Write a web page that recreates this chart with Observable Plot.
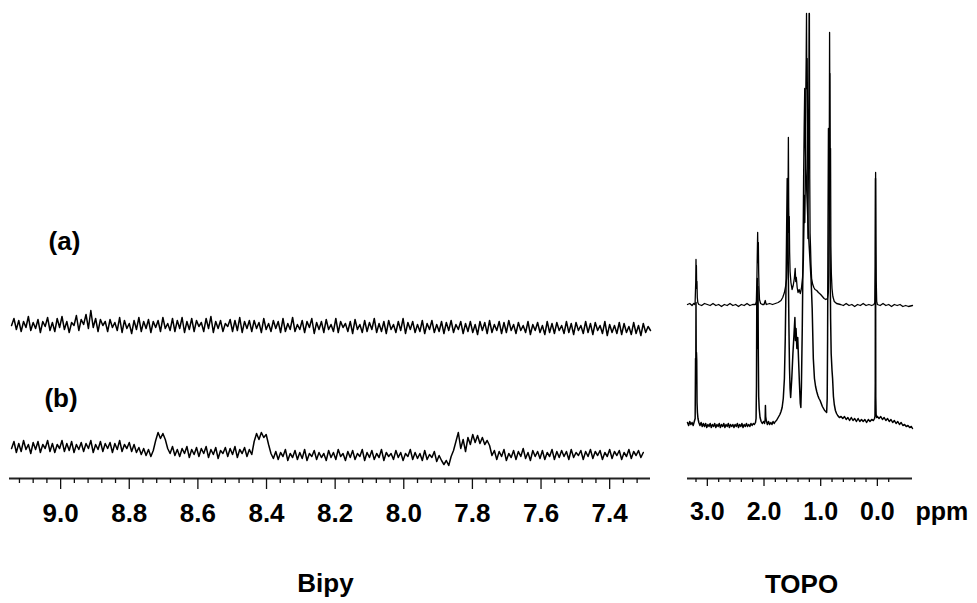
<!DOCTYPE html>
<html>
<head>
<meta charset="utf-8">
<script src="https://cdn.jsdelivr.net/npm/d3@7"></script>
<script src="https://cdn.jsdelivr.net/npm/@observablehq/plot@0.6"></script>
<style>
  body { margin: 0; background: #fff; }
  #chart { position: relative; width: 977px; height: 603px; font-family: "Liberation Sans", Arial, sans-serif; }
  #chart svg { position: absolute; top: 0; overflow: visible; }
</style>
</head>
<body>
<div id="chart"></div>
<script>
// ---------- Bipy region (left panel) ----------
const bipyPpmStart = 9.143;   // first sample (ppm)
const bipyPpmStep = 0.007;    // acquisition spacing (ppm)
const bipyMajorTicks = [9.0, 8.8, 8.6, 8.4, 8.2, 8.0, 7.8, 7.6, 7.4];
const bipyMinorTicks = [9.12, 9.08, 9.04, 8.96, 8.92, 8.88, 8.84, 8.76, 8.72, 8.68, 8.64, 8.56, 8.52, 8.48, 8.44,
  8.36, 8.32, 8.28, 8.24, 8.16, 8.12, 8.08, 8.04, 7.96, 7.92, 7.88, 7.84, 7.76, 7.72, 7.68, 7.64, 7.56, 7.52, 7.48, 7.44, 7.36, 7.32];

// trace (a): intensity, arbitrary units
const bipyA = [
  153,160,149,158,147,157,151,162,148,156,
  150,159,146,157,152,161,148,156,147,160,
  151,162,149,157,146,156,153,163,148,159,
  154,164,150,168,151,160,147,159,153,157,
  147,159,151,156,148,161,146,158,150,155,
  145,158,149,161,147,157,150,159,146,157,
  151,158,147,161,150,155,148,160,147,158,
  150,161,146,157,149,160,147,158,152,156,
  147,160,150,162,146,157,150,158,147,155,
  152,159,147,158,148,161,146,157,150,158,
  147,158,150,156,146,160,149,155,147,158,
  150,157,146,160,147,155,149,161,147,154,
  149,158,146,157,151,160,145,156,149,157,
  146,159,149,154,147,160,146,157,151,155,
  147,157,145,159,149,154,146,158,147,156,
  149,160,146,155,147,157,145,158,149,154,
  146,157,148,160,145,156,149,157,146,154,
  147,158,145,155,149,158,146,154,147,157,
  145,156,148,158,146,154,149,157,145,155,
  147,157,146,154,144,157,148,156,145,158,
  146,154,148,157,145,156,146,158,148,154,
  145,156,148,153,146,157,144,154,148,156,
  146,153,144,157,146,155,145,156,148,153,
  145,157,146,155,144,156,148,153,145,157,
  146,155,144,156,148,153,145,157,143,154,
  146,153,145,156,144,155,146,152,144,156,
  145,153,143,155,146,152,148
];

// trace (b): intensity, arbitrary units
const bipyB = [
  30,37,26,35,27,38,29,34,25,36,
  29,37,26,34,30,38,27,35,26,34,
  30,38,27,35,28,37,26,34,29,36,
  27,35,30,38,26,34,29,37,27,35,
  30,36,26,35,29,38,27,34,30,36,
  27,34,26,31,24,30,23,29,22,28,
  38,46,40,45,39,30,25,32,23,29,
  22,30,25,32,21,29,24,31,22,30,
  25,32,21,29,24,31,20,28,25,31,
  22,30,24,32,21,29,25,31,22,29,
  24,37,45,39,46,41,44,34,25,20,
  27,19,26,22,29,18,25,21,28,19,
  26,20,29,18,25,22,28,19,26,21,
  25,18,28,21,26,19,29,22,25,18,
  27,21,28,19,25,22,29,18,26,21,
  28,19,25,21,29,18,26,22,25,19,
  28,21,26,18,25,22,29,19,26,20,
  25,18,28,19,24,21,27,17,23,18,
  14,18,13,22,28,37,46,30,39,27,
  41,34,44,36,43,35,41,34,38,33,
  23,28,19,27,22,29,18,25,21,28,
  19,27,22,30,20,26,18,28,22,27,
  20,28,19,26,22,29,19,27,21,28,
  22,27,19,29,21,26,23,28,19,27,
  22,29,20,27,23,28,19,26,22,29,
  20,27,23,28,19,26,22,29,20,27,
  23,28,21,26
];

// ---------- TOPO region (right panel) ----------
const topoMajorTicks = [3, 2, 1, 0];
const topoMinorTicks = [3.2, 2.8, 2.6, 2.4, 2.2, 1.8, 1.6, 1.4, 1.2, 0.8, 0.6, 0.4, 0.2, -0.2];

// [ppm, intensity] trace (a)
const topoA = [
  [3.35,174],[3.31,175],[3.27,173],[3.24,175],[3.22,174],
  [3.215,177],[3.205,196],[3.20,219],[3.197,201],[3.193,213],[3.188,190],[3.183,197],[3.177,181],[3.168,176],[3.15,174],
  [3.10,173],[3.05,175],[3.00,174],[2.95,173],[2.90,175],[2.85,173],[2.80,174],[2.75,172],[2.70,174],[2.65,173],[2.60,175],
  [2.55,173],[2.50,174],[2.45,172],[2.40,174],[2.35,173],[2.30,175],[2.25,173],[2.20,174],[2.15,174],
  [2.135,177],[2.125,201],[2.118,226],[2.112,246],[2.106,216],[2.10,236],[2.094,206],[2.088,191],[2.08,179],[2.06,175],[2.03,174],
  [2.00,174],[1.978,178],[1.97,176],[1.96,174],[1.90,175],[1.85,174],[1.80,175],[1.75,176],[1.70,178],
  [1.67,181],[1.64,186],[1.62,192],[1.60,200],[1.588,216],[1.577,268],[1.570,341],[1.564,271],[1.559,246],[1.554,262],[1.548,226],[1.54,207],[1.525,196],
  [1.505,189],[1.485,193],[1.465,200],[1.450,210],[1.440,197],[1.430,201],[1.415,191],[1.40,186],[1.38,189],[1.36,185],[1.34,190],[1.32,201],[1.305,218],
  [1.295,252],[1.287,283],[1.28,256],[1.27,300],[1.262,390],[1.256,420],[1.250,465],[1.244,390],[1.238,420],[1.232,358],[1.225,240],
  [1.218,300],[1.211,350],[1.205,465],[1.199,465],[1.193,300],[1.187,245],[1.18,233],[1.17,212],[1.16,200],
  [1.14,194],[1.12,191],[1.10,189],[1.07,188],[1.04,186],[1.00,184],[0.97,182],[0.94,180],[0.91,179],[0.88,180],[0.865,186],
  [0.858,205],[0.852,260],[0.847,356],[0.843,446],[0.839,380],[0.835,405],[0.830,300],[0.826,330],[0.82,232],[0.812,205],[0.80,190],[0.785,182],[0.76,177],[0.72,175],
  [0.65,174],[0.60,173],[0.55,175],[0.50,173],[0.45,174],[0.40,172],[0.35,174],[0.30,173],[0.25,175],[0.20,173],[0.15,174],[0.10,173],[0.06,174],
  [0.045,176],[0.037,212],[0.031,306],[0.026,242],[0.02,198],[0.012,177],[0.0,174],
  [-0.05,173],[-0.1,175],[-0.15,173],[-0.2,174],[-0.25,172],[-0.3,174],[-0.35,173],[-0.4,174],[-0.45,172],[-0.5,173],[-0.55,172],[-0.62,173]
];

// [ppm, intensity] trace (b)
const topoB = [
  [3.35,56],[3.33,53],[3.31,57],[3.29,54],[3.27,56],[3.25,53],[3.23,57],[3.215,60],
  [3.208,120],[3.204,98],[3.200,176],[3.196,114],[3.192,126],[3.187,118],[3.182,76],[3.175,66],[3.165,60],[3.15,56],
  [3.13,53],[3.11,56],[3.09,52],[3.07,55],[3.05,52],[3.03,55],[3.01,51],[2.99,54],[2.97,52],[2.95,55],[2.93,51],[2.91,54],
  [2.89,52],[2.87,55],[2.85,51],[2.83,54],[2.81,52],[2.79,55],[2.77,51],[2.75,54],[2.73,52],[2.71,55],[2.69,51],[2.67,54],
  [2.65,52],[2.63,55],[2.61,51],[2.59,54],[2.57,52],[2.55,54],[2.53,51],[2.51,54],[2.49,52],[2.47,55],[2.45,51],[2.43,54],
  [2.41,52],[2.39,55],[2.37,51],[2.35,54],[2.33,52],[2.31,55],[2.29,52],[2.27,54],[2.25,52],[2.23,55],[2.21,53],[2.19,55],[2.17,54],[2.15,56],
  [2.14,60],[2.133,92],[2.127,182],[2.122,130],[2.117,200],[2.112,150],[2.106,192],[2.10,122],[2.094,82],[2.085,70],[2.07,61],[2.05,57],[2.03,55],[2.01,57],
  [1.99,55],[1.98,59],[1.975,73],[1.97,62],[1.96,58],[1.94,54],[1.92,57],[1.90,54],[1.88,56],[1.86,54],[1.84,57],[1.82,55],[1.80,57],[1.78,58],[1.76,60],[1.74,62],[1.72,64],[1.70,67],
  [1.68,71],[1.66,80],[1.64,100],[1.625,140],[1.61,200],[1.60,250],[1.59,300],[1.58,260],[1.57,200],[1.56,150],[1.55,110],[1.54,90],[1.53,81],
  [1.51,100],[1.49,125],[1.47,145],[1.455,161],[1.445,138],[1.435,150],[1.42,130],[1.405,141],[1.39,118],[1.375,95],[1.36,75],[1.35,71],[1.34,92],
  [1.325,150],[1.31,230],[1.30,300],[1.29,350],[1.28,390],[1.27,340],[1.26,310],[1.24,280],[1.22,250],[1.20,230],[1.17,200],[1.15,170],[1.13,120],
  [1.11,100],[1.09,92],[1.07,87],[1.05,83],[1.03,80],[1.01,78],[0.99,75],[0.97,72],[0.95,70],[0.93,68],[0.91,67],[0.895,66],
  [0.885,80],[0.878,140],[0.87,250],[0.862,350],[0.855,300],[0.848,330],[0.84,260],[0.832,210],[0.825,160],[0.815,125],[0.80,108],[0.79,100],
  [0.775,82],[0.76,74],[0.74,68],[0.72,65],[0.70,63],[0.67,61],
  [0.64,62],[0.61,60],[0.58,62],[0.55,59],[0.52,61],[0.49,58],[0.46,61],[0.43,58],[0.40,60],[0.37,57],[0.34,60],[0.31,57],
  [0.28,59],[0.25,57],[0.22,59],[0.19,56],[0.16,59],[0.13,57],[0.10,59],[0.07,58],[0.05,60],
  [0.042,62],[0.037,96],[0.033,300],[0.028,82],[0.022,64],[0.01,61],[0.0,62],
  [-0.03,60],[-0.06,62],[-0.09,59],[-0.12,61],[-0.15,58],[-0.18,60],[-0.21,57],[-0.24,59],[-0.27,56],[-0.30,58],
  [-0.33,55],[-0.36,57],[-0.39,54],[-0.42,56],[-0.45,53],[-0.48,54],[-0.51,52],[-0.54,53],[-0.57,51],[-0.60,52],[-0.62,50]
];

// ---------- build tables ----------
const bipyTable = (arr) => arr.map((v, i) => ({ppm: bipyPpmStart - i * bipyPpmStep, intensity: v}));
const pairTable = (arr) => arr.map(([p, v]) => ({ppm: p, intensity: v}));

const fmt = d3.format(".1f");
const font = {fontFamily: "'Liberation Sans', Arial, sans-serif", fontWeight: "bold", color: "black", background: "transparent", overflow: "visible"};

const left = Plot.plot({
  width: 660, height: 603,
  marginLeft: 9, marginRight: 10, marginTop: 0, marginBottom: 125,
  style: font,
  x: {domain: [9.149, 7.281]},
  y: {domain: [0, 478], axis: null},
  marks: [
    Plot.ruleY([0], {stroke: "#222", strokeWidth: 2}),
    Plot.axisX({ticks: bipyMinorTicks, tickSize: 5, tickFormat: () => "", stroke: "#111", strokeWidth: 1.3, label: null}),
    Plot.axisX({ticks: bipyMajorTicks, tickSize: 11, tickPadding: 14, tickFormat: fmt, stroke: "#111", strokeWidth: 1.3,
      fontSize: 26, fontWeight: "bold", label: null}),
    Plot.line(bipyTable(bipyA), {x: "ppm", y: "intensity", stroke: "black", strokeWidth: 1.5}),
    Plot.line(bipyTable(bipyB), {x: "ppm", y: "intensity", stroke: "black", strokeWidth: 1.5}),
    Plot.text(["(a)"], {text: d => d, frameAnchor: "top-left", dx: 55, dy: 241, fontSize: 26, fontWeight: "bold", textAnchor: "middle", lineAnchor: "middle"}),
    Plot.text(["(b)"], {text: d => d, frameAnchor: "top-left", dx: 51.5, dy: 398, fontSize: 26, fontWeight: "bold", textAnchor: "middle", lineAnchor: "middle"}),
    Plot.text(["Bipy"], {text: d => d, frameAnchor: "bottom", dx: -4.5, dy: 105, fontSize: 26, fontWeight: "bold", textAnchor: "middle", lineAnchor: "middle"})
  ]
});

const right = Plot.plot({
  width: 307, height: 603,
  marginLeft: 17, marginRight: 65, marginTop: 0, marginBottom: 125,
  style: font,
  x: {domain: [3.35, -0.62]},
  y: {domain: [0, 478], axis: null},
  marks: [
    Plot.ruleY([0], {stroke: "#222", strokeWidth: 2}),
    Plot.axisX({ticks: topoMinorTicks, tickSize: 4, tickFormat: () => "", stroke: "#111", strokeWidth: 1.3, label: null}),
    Plot.axisX({ticks: topoMajorTicks, tickSize: 8, tickPadding: 16, tickFormat: fmt, stroke: "#111", strokeWidth: 1.3,
      fontSize: 25, fontWeight: "bold", label: null}),
    Plot.line(pairTable(topoA), {x: "ppm", y: "intensity", stroke: "black", strokeWidth: 1.3}),
    Plot.line(pairTable(topoB), {x: "ppm", y: "intensity", stroke: "black", strokeWidth: 1.5}),
    Plot.text(["ppm"], {text: d => d, frameAnchor: "bottom-right", dx: 3, dy: 33, fontSize: 25, fontWeight: "bold", textAnchor: "start", lineAnchor: "middle"}),
    Plot.text(["TOPO"], {text: d => d, frameAnchor: "bottom", dx: 1.5, dy: 106, fontSize: 26, fontWeight: "bold", textAnchor: "middle", lineAnchor: "middle"})
  ]
});

left.style.left = "0px";
right.style.left = "670px";
const chart = document.getElementById("chart");
chart.appendChild(left);
chart.appendChild(right);
</script>
</body>
</html>
